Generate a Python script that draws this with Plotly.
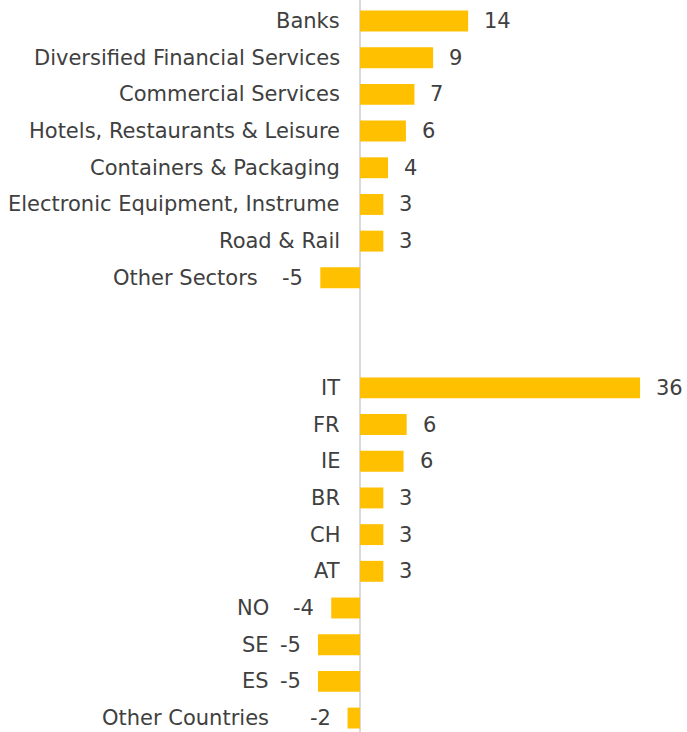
import plotly.graph_objects as go

sector_names = ["Banks", "Diversified Financial Services", "Commercial Services",
                "Hotels, Restaurants & Leisure", "Containers & Packaging",
                "Electronic Equipment, Instrume", "Road & Rail", "Other Sectors"]
sector_values = [13.9, 9.4, 7.0, 5.9, 3.6, 3.0, 3.0, -5.1]

country_names = ["IT", "FR", "IE", "BR", "CH", "AT", "NO", "SE", "ES", "Other Countries"]
country_values = [36.0, 6.0, 5.6, 3.0, 3.0, 3.0, -3.7, -5.4, -5.4, -1.6]

GAP_ROWS = 2
BAR_COLOR = "#FFC000"
TEXT_COLOR = "#404040"
FONT = "DejaVu Sans"
FSIZE = 21

rows = []  # (name, value, y, group)
y = 0
for n, v in zip(sector_names, sector_values):
    rows.append((n, v, y, "sector"))
    y += 1
y += GAP_ROWS
for n, v in zip(country_names, country_values):
    rows.append((n, v, y, "country"))
    y += 1

fig = go.Figure(go.Bar(
    x=[r[1] for r in rows], y=[r[2] for r in rows], orientation="h",
    marker=dict(color=BAR_COLOR, line=dict(width=0)), width=0.57,
    hoverinfo="skip",
))

neg_label_shift = {"sector": -100, "country": -89}
ann = []
for n, v, yy, g in rows:
    txt = str(int(round(v)))
    if v >= 0:
        ann.append(dict(x=v, y=yy, text=txt, xanchor="left", xshift=14, showarrow=False))
        ann.append(dict(x=0, y=yy, text=n, xanchor="right", xshift=-18, showarrow=False))
    else:
        ann.append(dict(x=v, y=yy, text=txt, xanchor="right", xshift=-15, showarrow=False))
        ann.append(dict(x=0, y=yy, text=n, xanchor="right", xshift=neg_label_shift[g], showarrow=False))
for a in ann:
    a.update(xref="x", yref="y", font=dict(family=FONT, size=FSIZE, color=TEXT_COLOR))

fig.update_layout(
    width=687, height=732, margin=dict(l=0, r=0, t=0, b=0),
    paper_bgcolor="white", plot_bgcolor="white", showlegend=False,
    annotations=ann,
    xaxis=dict(range=[-46.27, 42.03], showgrid=False, showticklabels=False,
               zeroline=True, zerolinecolor="#d9d9d9", zerolinewidth=2, fixedrange=True),
    yaxis=dict(range=[19.38, -0.573], showgrid=False, showticklabels=False,
               zeroline=False, fixedrange=True),
)

fig.write_html("out.html", config={"displayModeBar": False},
               post_script="document.body.style.margin='0';document.body.style.overflow='hidden';")
